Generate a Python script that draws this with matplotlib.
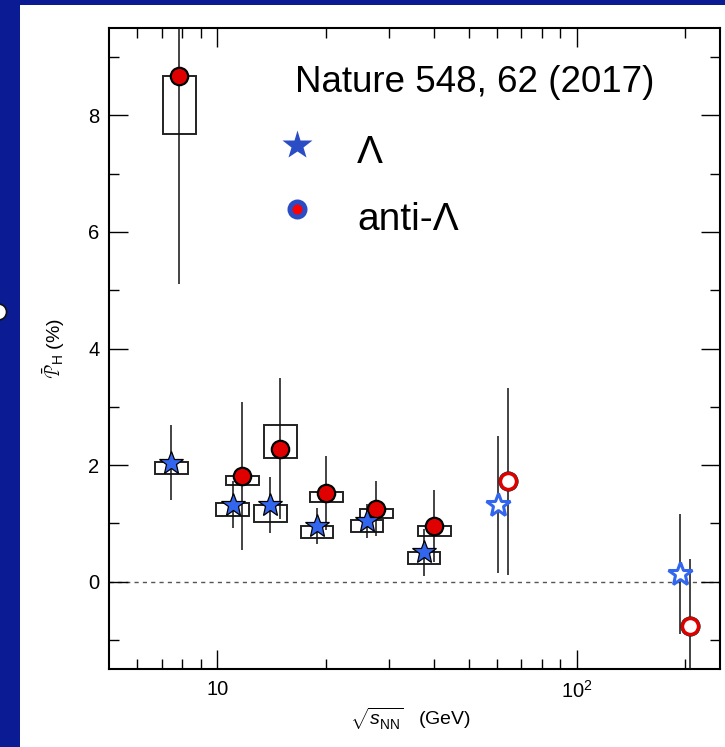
import matplotlib
matplotlib.use("Agg")
import matplotlib.pyplot as plt
import numpy as np
from matplotlib.patches import Rectangle, Ellipse
from matplotlib.ticker import MultipleLocator, FixedLocator, FixedFormatter, NullFormatter

plt.rcParams['font.family'] = ['Liberation Sans', 'DejaVu Sans']
plt.rcParams['mathtext.fontset'] = 'custom'
plt.rcParams['mathtext.rm'] = 'Liberation Sans'
plt.rcParams['mathtext.it'] = 'Liberation Sans:italic'
plt.rcParams['mathtext.bf'] = 'Liberation Sans:bold'

# Lambda (filled stars)
lam_e = [7.45, 11.05, 14.05, 18.95, 26.1, 37.6]
lam_p = [2.04, 1.32, 1.31, 0.95, 1.04, 0.50]
lam_stat = [0.64, 0.40, 0.48, 0.31, 0.29, 0.40]
lam_sys_lo = [1.84, 1.13, 1.02, 0.74, 0.85, 0.30]
lam_sys_hi = [2.05, 1.35, 1.32, 0.96, 1.05, 0.50]

# anti-Lambda (filled circles)
alam_e = [7.85, 11.74, 14.98, 20.1, 27.7, 40.1]
alam_p = [8.68, 1.81, 2.28, 1.52, 1.25, 0.95]
alam_stat = [3.58, 1.27, 1.21, 0.63, 0.47, 0.62]
alam_sys_lo = [7.68, 1.65, 2.12, 1.37, 1.09, 0.79]
alam_sys_hi = [8.68, 1.81, 2.68, 1.53, 1.25, 0.95]

# earlier measurements (open symbols)
lam_open_e = [60.5, 194]
lam_open_p = [1.32, 0.13]
lam_open_stat = [1.18, 1.03]
alam_open_e = [64.5, 206.9]
alam_open_p = [1.72, -0.77]
alam_open_stat = [1.60, 1.16]

star_blue = '#3366ee'
red = '#e00000'

fig = plt.figure(figsize=(7.25, 7.47), dpi=100, facecolor='#0b1b94')
# white slide panel
fig.patches.append(Rectangle((20/725, 0), 1, 1 - 5/747, transform=fig.transFigure,
                             facecolor='white', edgecolor='none', zorder=-10))
fig.patches.append(Ellipse((-0.002, 1 - 312/747), 16/725, 16/747, transform=fig.transFigure,
                           facecolor='white', edgecolor='#111111', lw=1.2, zorder=-9))

ax = fig.add_axes([109/725, 1 - 669/747, 611/725, 641/747])
ax.set_zorder(5)
ax.set_facecolor('white')
ax.set_xscale('log')
ax.set_xlim(5, 250)
ax.set_ylim(-1.5, 9.5)

ax.axhline(0, color='#555555', lw=1.0, ls=(0, (3, 3)), zorder=1)

# systematic boxes
f = 10 ** 0.0455
for e, lo, hi in zip(lam_e + alam_e, lam_sys_lo + alam_sys_lo, lam_sys_hi + alam_sys_hi):
    ax.add_patch(Rectangle((e / f, lo), e * f - e / f, hi - lo, facecolor='none',
                           edgecolor='#222222', lw=1.4, zorder=2))

ax.errorbar(lam_e, lam_p, yerr=lam_stat, fmt='none', ecolor='#111111', elinewidth=1.1, zorder=3)
ax.errorbar(alam_e, alam_p, yerr=alam_stat, fmt='none', ecolor='#111111', elinewidth=1.1, zorder=3)
ax.errorbar(lam_open_e, lam_open_p, yerr=lam_open_stat, fmt='none', ecolor='#111111', elinewidth=1.1, zorder=3)
ax.errorbar(alam_open_e, alam_open_p, yerr=alam_open_stat, fmt='none', ecolor='#111111', elinewidth=1.1, zorder=3)

ax.plot(alam_e, alam_p, 'o', ms=12.5, mfc=red, mec='black', mew=1.6, zorder=4)
ax.plot(lam_e, lam_p, '*', ms=18, mfc=star_blue, mec='black', mew=0.9, zorder=5)
ax.plot(alam_open_e, alam_open_p, 'o', ms=14, mfc='#222222', mec='#222222', mew=0.5, zorder=4)
ax.plot(alam_open_e, alam_open_p, 'o', ms=11.5, mfc='white', mec=red, mew=2.4, zorder=4)
ax.plot(lam_open_e, lam_open_p, '*', ms=18, mfc='white', mec=star_blue, mew=2.2, zorder=5)

# legend drawn by hand
ax.text(0.304, 0.900, 'Nature 548, 62 (2017)', transform=ax.transAxes, fontsize=26.5,
        ha='left', va='baseline')
ax.plot([0.307], [0.8175], '*', transform=ax.transAxes, ms=22, mfc='#2a4cc4', mec='none', clip_on=False)
ax.text(0.406, 0.789, 'Λ', transform=ax.transAxes, fontsize=28, ha='left', va='baseline')
ax.plot([0.307], [0.7176], 'o', transform=ax.transAxes, ms=10.8, mfc='#ff0000', mec='#2a4cc4',
        mew=3.6, clip_on=False)
ax.text(0.406, 0.685, 'anti-Λ', transform=ax.transAxes, fontsize=28, ha='left', va='baseline')

# axes styling
for s in ax.spines.values():
    s.set_linewidth(1.5)
ax.xaxis.set_major_locator(FixedLocator([10, 100]))
ax.xaxis.set_major_formatter(FixedFormatter(['10', r'10$^2$']))
ax.xaxis.set_minor_locator(FixedLocator([6, 7, 8, 9, 20, 30, 40, 50, 60, 70, 80, 90, 200]))
ax.xaxis.set_minor_formatter(NullFormatter())
ax.yaxis.set_major_locator(MultipleLocator(2))
ax.yaxis.set_minor_locator(MultipleLocator(1))
ax.tick_params(which='both', direction='in', top=True, right=True, width=1.0, labelsize=14.5)
ax.tick_params(which='major', length=13.5)
ax.tick_params(which='minor', length=7)
ax.tick_params(axis='x', pad=8)
ax.tick_params(axis='y', pad=7)

ax.set_ylabel(r'$\bar{\mathcal{P}}_{\mathrm{H}}$ (%)', fontsize=14)
ax.yaxis.set_label_coords(-0.068, 0.5)
ax.set_xlabel(r'$\sqrt{s_{\mathrm{NN}}^{\ }}$   (GeV)', fontsize=14)
ax.xaxis.set_label_coords(0.493, -0.058)

fig.savefig('out.png', dpi=100, facecolor=fig.get_facecolor())
